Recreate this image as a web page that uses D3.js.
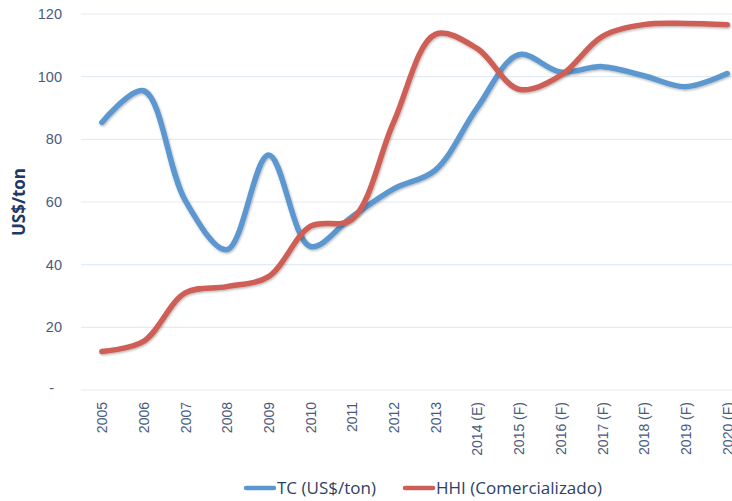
<!DOCTYPE html>
<html>
<head>
<meta charset="utf-8">
<script src="https://cdn.jsdelivr.net/npm/d3@7/dist/d3.min.js"></script>
<style>
  body { margin: 0; background: #fff; }
  svg { display: block; font-family: "Open Sans", "DejaVu Sans", sans-serif; }
</style>
</head>
<body>
<svg id="chart" width="732" height="501"></svg>
<script>
// ── Data ──────────────────────────────────────────────────────────────────────
const years = ["2005", "2006", "2007", "2008", "2009", "2010", "2011", "2012", "2013",
               "2014 (E)", "2015 (F)", "2016 (F)", "2017 (F)", "2018 (F)", "2019 (F)", "2020 (F)"];
const tc  = [85.4, 95.5, 60.5, 44.8, 75.0, 45.8, 55.3, 64.2, 70.2, 90.0, 107.0, 101.5, 103.2, 100.3, 96.8, 101.0];
const hhi = [12.3, 15.5, 31.0, 33.0, 36.2, 52.2, 54.5, 85.5, 113.5, 109.0, 96.0, 100.3, 112.8, 116.6, 117.0, 116.6];
const yTicks = [0, 20, 40, 60, 80, 100, 120];

const series = [
  { name: "TC (US$/ton)",         values: tc,  color: "#5B97CF" },
  { name: "HHI (Comercializado)", values: hhi, color: "#CE5F57" }
];

// ── Layout ────────────────────────────────────────────────────────────────────
const svg = d3.select("#chart");
const plot = { left: 81, right: 748, top: 14, bottom: 390 };
const labelColor = "#4A5A7C";

const x = d3.scalePoint().domain(years).range([plot.left, plot.right]).padding(0.5);
const y = d3.scaleLinear().domain([0, 120]).range([plot.bottom, plot.top]);

// soft drop shadow like the office chart
const defs = svg.append("defs");
const f = defs.append("filter").attr("id", "shadow")
  .attr("x", "-5%").attr("y", "-5%").attr("width", "110%").attr("height", "120%");
f.append("feDropShadow").attr("dx", 0.8).attr("dy", 1.2).attr("stdDeviation", 0.9)
  .attr("flood-color", "#000").attr("flood-opacity", 0.3);

// gridlines
svg.append("g")
  .selectAll("line").data(yTicks).join("line")
  .attr("x1", plot.left).attr("x2", plot.right)
  .attr("y1", d => y(d)).attr("y2", d => y(d))
  .attr("stroke", "#E3EBF6").attr("stroke-width", 1.2);

// y axis labels
const yAxis = svg.append("g")
  .attr("transform", `translate(${plot.left - 19},0)`)
  .call(d3.axisLeft(y).tickValues(yTicks).tickSize(0).tickPadding(0)
    .tickFormat(d => d === 0 ? "-" : d));
yAxis.select(".domain").remove();
yAxis.selectAll("text")
  .attr("fill", labelColor).style("font-size", "14.5px")
  .attr("dx", d => d === 0 ? -8 : 0)
  .attr("dy", d => d === 0 ? "0.2em" : "0.32em");

// y axis title
svg.append("text")
  .attr("transform", "translate(25,202) rotate(-90)")
  .attr("text-anchor", "middle")
  .attr("fill", "#1F3864")
  .style("font-size", "17px").style("font-weight", "bold")
  .text("US$/ton");

// x axis labels (rotated)
const xAxis = svg.append("g")
  .attr("transform", `translate(0,${plot.bottom})`)
  .call(d3.axisBottom(x).tickSize(0).tickPadding(0));
xAxis.select(".domain").remove();
xAxis.selectAll("text")
  .attr("fill", labelColor).style("font-size", "14px")
  .attr("text-anchor", "end")
  .attr("transform", "rotate(-90)")
  .attr("x", -12).attr("y", 0).attr("dy", "0.35em");

// lines
const line = d3.line()
  .x((d, i) => x(years[i]))
  .y(d => y(d))
  .curve(d3.curveCatmullRom.alpha(0.5));

svg.append("g")
  .selectAll("path").data(series).join("path")
  .attr("d", d => line(d.values))
  .attr("fill", "none")
  .attr("stroke", d => d.color)
  .attr("stroke-width", 5.5)
  .attr("stroke-linecap", "round")
  .attr("stroke-linejoin", "round")
  .attr("filter", "url(#shadow)");

// legend
const legendPos = [246, 405];
const lg = svg.append("g")
  .selectAll("g").data(series).join("g")
  .attr("transform", (d, i) => `translate(${legendPos[i]},488)`);
lg.append("line")
  .attr("x1", 0).attr("x2", 28)
  .attr("stroke", d => d.color).attr("stroke-width", 4.5)
  .attr("stroke-linecap", "round");
lg.append("text")
  .attr("x", 31).attr("dy", "0.35em")
  .attr("fill", "#2E3F66")
  .style("font-size", "17px")
  .text(d => d.name);
</script>
</body>
</html>
